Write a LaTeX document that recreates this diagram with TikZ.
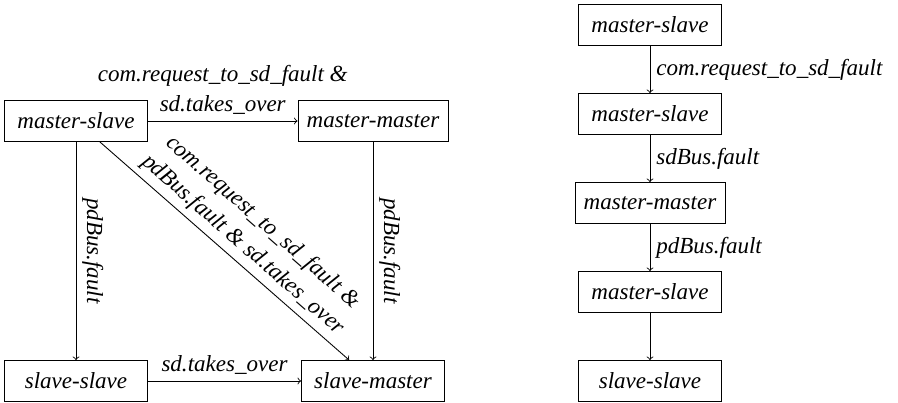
\documentclass[tikz,border=0pt]{standalone}
\usepackage{fontspec}
\setmainfont{Liberation Serif}
\usepackage{amsmath}

\begin{document}
\begin{tikzpicture}
\tikzstyle{every node}+=[font=\fontsize{13.1}{17}\selectfont\itshape]
\tikzstyle{mode}=[draw=black, rectangle, line width=0.5pt, minimum width=2.86cm, minimum height=0.82cm, inner xsep=5pt]
\tikzstyle{trans}=[draw=black, ->, line width=0.5pt]
\useasboundingbox (0,0) rectangle (17.96,8.06);
\node [mode] (ms) at (1.52,5.64) {master-slave};
\node [mode] (mm) at (7.46,5.64) {master-master};
\node [mode] (ss) at (1.52,0.44) {slave-slave};
\node [mode] (sm) at (7.46,0.44) {slave-master};
\draw [trans] (ms) -- node [above, align=center] {com.request\_to\_sd\_fault \&\\sd.takes\_over} (mm);
\draw [trans] (ms) -- node [midway, rotate=-90, anchor=south] {pdBus.fault} (ss);
\draw [trans] (mm) -- node [midway, rotate=-90, anchor=south] {pdBus.fault} (sm);
\draw [trans] (ms) -- node [pos=0.53, sloped, above, align=center] {com.request\_to\_sd\_fault \&\\pdBus.fault \& sd.takes\_over} (sm);
\draw [trans] (ss) -- node [above] {sd.takes\_over} (sm);
\node [mode] (r1) at (13,7.56) {master-slave};
\node [mode] (r2) at (13,5.78) {master-slave};
\node [mode] (r3) at (13,4.00) {master-master};
\node [mode] (r4) at (13,2.22) {master-slave};
\node [mode] (r5) at (13,0.44) {slave-slave};
\draw [trans] (r1) -- node [right] {com.request\_to\_sd\_fault} (r2);
\draw [trans] (r2) -- node [right] {sdBus.fault} (r3);
\draw [trans] (r3) -- node [right] {pdBus.fault} (r4);
\draw [trans] (r4) -- (r5);
\end{tikzpicture}
\end{document}
